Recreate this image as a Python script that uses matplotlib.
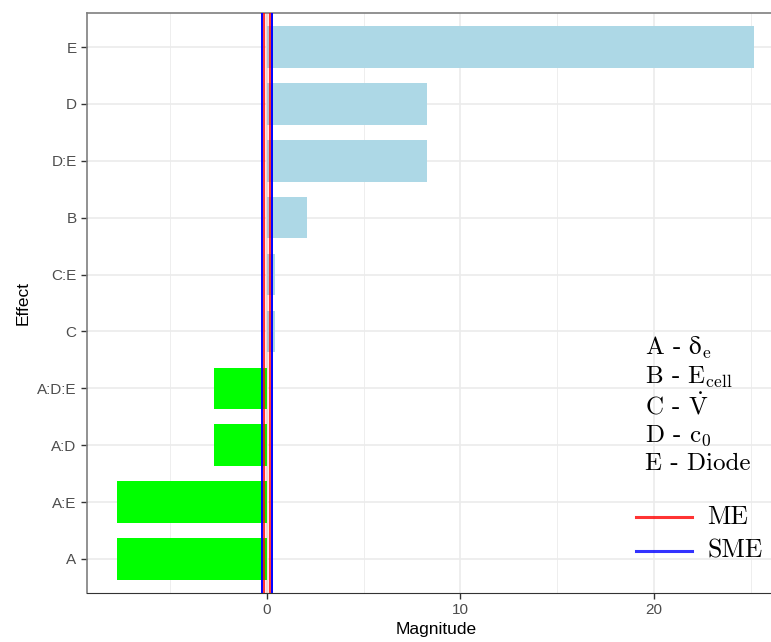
import numpy as np
import matplotlib
matplotlib.use('Agg')
import matplotlib.pyplot as plt
from matplotlib.lines import Line2D

# effect estimates, bottom to top
effects = ['A', 'A:E', 'A:D', 'A:D:E', 'C', 'C:E', 'B', 'D:E', 'D', 'E']
magnitude = [-7.73, -7.73, -2.70, -2.70, 0.43, 0.43, 2.07, 8.26, 8.26, 25.15]
ME = 0.16
SME = 0.26

factor_labels = [r'A - $\mathrm{δ}_{\mathrm{e}}$',
                 r'B - $\mathrm{E}_{\mathrm{cell}}$',
                 r'C - $\dot{\mathrm{V}}$',
                 r'D - $\mathrm{c}_0$',
                 r'E - Diode']

plt.rcParams['mathtext.fontset'] = 'cm'

fig = plt.figure(figsize=(7.71, 6.42), dpi=100)
ax = fig.add_axes([87 / 771, 49 / 642, 699 / 771, 580 / 642])

ypos = np.arange(1, len(effects) + 1)
colors = ['#00ff00' if m < 0 else '#add8e6' for m in magnitude]

ax.set_xlim(-9.27, 26.8)
ax.set_ylim(0.4, len(effects) + 0.6)

# grid like theme_bw
for x in [-5, 5, 15, 25]:
    ax.axvline(x, color='#ebebeb', lw=0.6, zorder=0)
for x in [0, 10, 20]:
    ax.axvline(x, color='#ebebeb', lw=1.2, zorder=0)
for y in ypos:
    ax.axhline(y, color='#ebebeb', lw=1.2, zorder=0)

ax.barh(ypos, magnitude, height=0.73, color=colors, zorder=2)

ax.axvspan(-ME, ME, color='red', alpha=0.1, lw=0, zorder=3)
for s in [-1, 1]:
    ax.axvline(s * ME, color='red', lw=1.1, zorder=4)
    ax.axvline(s * SME, color='blue', lw=1.4, zorder=4)

ax.set_yticks(ypos)
ax.set_yticklabels(effects)
ax.set_xticks([0, 10, 20])
ax.tick_params(axis='both', colors='#333333', labelcolor='#4d4d4d',
               labelsize=11, length=4, width=1.0)
for lab in ax.get_xticklabels() + ax.get_yticklabels():
    lab.set_fontfamily('Liberation Sans')

for side in ['left', 'top', 'right']:
    ax.spines[side].set_color('#7f7f7f')
    ax.spines[side].set_linewidth(1.2)
ax.spines['bottom'].set_color('#333333')

ax.set_xlabel('Magnitude', fontsize=12.5, family='Liberation Sans', labelpad=3)
ax.set_ylabel('Effect', fontsize=12.5, family='Liberation Sans', labelpad=5)

# factor key
for i, txt in enumerate(factor_labels):
    ax.text(0.798, 0.422 - i * 0.05, txt, transform=ax.transAxes,
            fontsize=18, family='cmr10', va='center', ha='left', zorder=5)

# line legend
for yy, col, name in [(0.1316, 'red', 'ME'), (0.0724, 'blue', 'SME')]:
    ax.add_line(Line2D([0.785, 0.866], [yy, yy], transform=ax.transAxes,
                       color=col, lw=2.2, alpha=0.8, zorder=5))
    ax.text(0.887, yy, name, transform=ax.transAxes, fontsize=18.5,
            family='cmr10', va='center', ha='left', zorder=5)

fig.savefig('out.png', dpi=100)
